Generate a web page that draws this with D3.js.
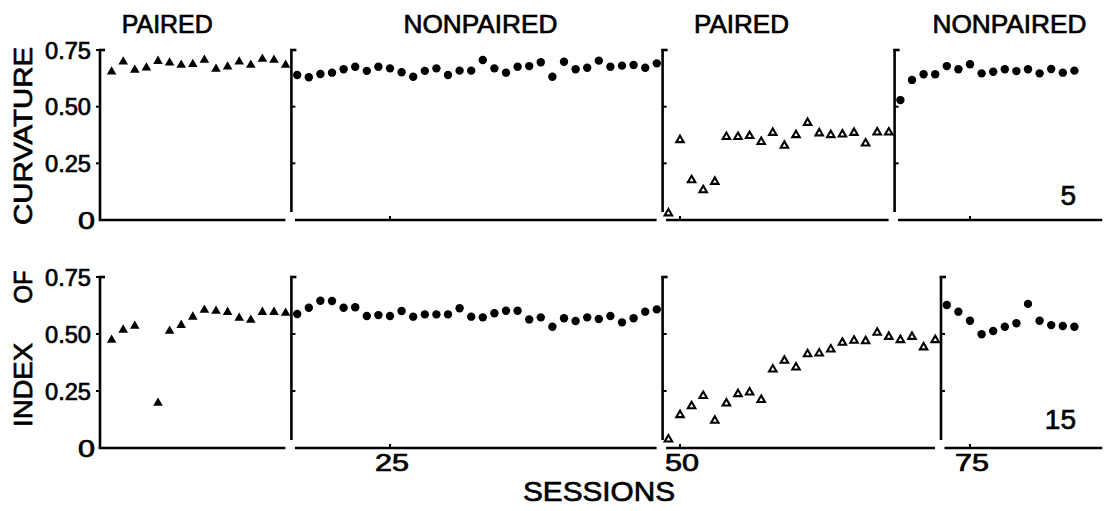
<!DOCTYPE html>
<html><head><meta charset="utf-8">
<script src="https://cdn.jsdelivr.net/npm/d3@7"></script>
<style>
body{margin:0;background:#fff}
svg{display:block}
text{font-family:"Liberation Sans",Arial,Helvetica,sans-serif;fill:#000;stroke:#000;stroke-width:0.7px}
</style>
</head><body>
<svg id="c" width="1109" height="511"></svg>
<script>
// ---------- DATA ----------
const conditionLabels = ["PAIRED", "NONPAIRED", "PAIRED", "NONPAIRED"];
const yTickValues = [0, 0.25, 0.5, 0.75];
const yTickLabels = ["0", "0.25", "0.50", "0.75"];
const xTickValues = [25, 50, 75];
const panelLabels = ["5", "15"];

// Top panel (5) — index of curvature per session
const topPairedAStart = 1;
const topPairedA = [0.654, 0.698, 0.662, 0.672, 0.701, 0.694, 0.684, 0.687, 0.706, 0.666, 0.676, 0.698, 0.684, 0.710, 0.706, 0.684];
const topNonpairedAStart = 17;
const topNonpairedA = [0.640, 0.630, 0.644, 0.650, 0.665, 0.676, 0.658, 0.676, 0.669, 0.652, 0.632, 0.658, 0.669, 0.640, 0.659, 0.659,
  0.706, 0.669, 0.650, 0.676, 0.679, 0.696, 0.632, 0.698, 0.665, 0.672, 0.703, 0.676, 0.681, 0.684, 0.672, 0.691];
const topPairedBStart = 49;
const topPairedB = [0.030, 0.353, 0.176, 0.132, 0.169, 0.367, 0.367, 0.371, 0.345, 0.385, 0.328, 0.375, 0.429, 0.383, 0.375, 0.378, 0.385, 0.338, 0.387, 0.387];
const topNonpairedBStart = 69;
const topNonpairedB = [0.529, 0.618, 0.643, 0.643, 0.679, 0.665, 0.687, 0.647, 0.654, 0.665, 0.657, 0.665, 0.647, 0.666, 0.650, 0.659];

// Bottom panel (15)
const botPairedAStart = 1;
const botPairedA = [0.474, 0.518, 0.535, null, 0.197, 0.513, 0.539, 0.575, 0.605, 0.601, 0.596, 0.570, 0.561, 0.596, 0.596, 0.592];
const botNonpairedAStart = 17;
const botNonpairedA = [0.588, 0.615, 0.646, 0.645, 0.615, 0.617, 0.579, 0.583, 0.579, 0.601, 0.576, 0.586, 0.586, 0.586, 0.613, 0.576,
  0.573, 0.591, 0.602, 0.602, 0.564, 0.573, 0.532, 0.569, 0.557, 0.573, 0.566, 0.579, 0.551, 0.569, 0.598, 0.608];
const botPairedBStart = 49;
const botPairedB = [0.038, 0.145, 0.184, 0.229, 0.120, 0.196, 0.237, 0.244, 0.211, 0.345, 0.383, 0.354, 0.412, 0.415, 0.433, 0.462,
  0.471, 0.469, 0.506, 0.488, 0.474, 0.488, 0.442, 0.474];
const botNonpairedBStart = 73;
const botNonpairedB = [0.627, 0.598, 0.558, 0.499, 0.513, 0.532, 0.547, 0.632, 0.558, 0.539, 0.535, 0.532];

// Condition boundaries (session units) for each panel
const topBreaks = [0, 16.5, 48.5, 68.5];
const botBreaks = [0, 16.5, 48.5, 72.5];
const sessionEnd = 86.4;

// ---------- LAYOUT ----------
const svg = d3.select("#c");
const x = d3.scaleLinear().domain([0, 84]).range([100, 1074.4]);
const titleAt = [5.8, 32.8, 55.3, 78.4];
const titleLen = [91, 154, 95, 154];

function pts(start, vals) {
  return vals.map((v, i) => ({ s: start + i, v })).filter(d => d.v !== null);
}

const panels = [
  {
    y: d3.scaleLinear().domain([0, 0.75]).range([220, 50]),
    breaks: topBreaks,
    label: panelLabels[0], labelY: 205,
    series: [
      { d: pts(topPairedAStart, topPairedA), m: "triF" },
      { d: pts(topNonpairedAStart, topNonpairedA), m: "circ" },
      { d: pts(topPairedBStart, topPairedB), m: "triO" },
      { d: pts(topNonpairedBStart, topNonpairedB), m: "circ" }
    ],
    xLabels: false
  },
  {
    y: d3.scaleLinear().domain([0, 0.75]).range([448, 277]),
    breaks: botBreaks,
    label: panelLabels[1], labelY: 429,
    series: [
      { d: pts(botPairedAStart, botPairedA), m: "triF" },
      { d: pts(botNonpairedAStart, botNonpairedA), m: "circ" },
      { d: pts(botPairedBStart, botPairedB), m: "triO" },
      { d: pts(botNonpairedBStart, botNonpairedB), m: "circ" }
    ],
    xLabels: true
  }
];

const AX = 2.6;
const triF = d3.symbol().type(d3.symbolTriangle).size(40)();
const triO = d3.symbol().type(d3.symbolTriangle).size(24)();

panels.forEach(p => {
  const g = svg.append("g");
  const y = p.y;
  const y0 = y(0);
  p.breaks.forEach((b, i) => {
    const ax = x(b);
    g.append("line").attr("x1", ax).attr("x2", ax)
      .attr("y1", y(0.75) - 1).attr("y2", i === 0 ? y0 : y0 - 8)
      .attr("stroke", "#000").attr("stroke-width", AX);
    g.append("line").attr("x1", ax - AX / 2).attr("x2", ax + 5)
      .attr("y1", y(0.75)).attr("y2", y(0.75))
      .attr("stroke", "#000").attr("stroke-width", AX);
    const tv = i === 0 ? [0.25, 0.5, 0.75] : [0.25, 0.5];
    tv.forEach(t => {
      g.append("line")
        .attr("x1", i === 0 ? ax - 4 : ax).attr("x2", i === 0 ? ax : ax + 4)
        .attr("y1", y(t)).attr("y2", y(t))
        .attr("stroke", "#000").attr("stroke-width", 2);
    });
    const xs = i === 0 ? ax - AX / 2 : ax + 3.5;
    const xe = i < p.breaks.length - 1 ? x(p.breaks[i + 1]) - 6 : x(sessionEnd);
    g.append("line").attr("x1", xs).attr("x2", xe)
      .attr("y1", y0).attr("y2", y0)
      .attr("stroke", "#000").attr("stroke-width", AX);
  });
  xTickValues.forEach(t => {
    g.append("line").attr("x1", x(t)).attr("x2", x(t))
      .attr("y1", y0).attr("y2", y0 - 4)
      .attr("stroke", "#000").attr("stroke-width", 2);
  });
  yTickValues.forEach((t, i) => {
    const lab = yTickLabels[i];
    const tx = g.append("text")
      .attr("x", lab === "0" ? 95 : 91)
      .attr("y", y(t) + 8.5)
      .attr("text-anchor", "end")
      .attr("font-size", 23)
      .text(lab);
    if (lab === "0") tx.attr("textLength", 17).attr("lengthAdjust", "spacingAndGlyphs");
    else tx.attr("textLength", 46).attr("lengthAdjust", "spacingAndGlyphs");
  });
  p.series.forEach(s => {
    const sel = g.selectAll(null).data(s.d).enter();
    if (s.m === "circ") {
      sel.append("circle").attr("cx", d => x(d.s)).attr("cy", d => y(d.v))
        .attr("r", 4.2).attr("fill", "#000");
    } else if (s.m === "triF") {
      sel.append("path").attr("d", triF)
        .attr("transform", d => `translate(${x(d.s)},${y(d.v)})`)
        .attr("fill", "#000");
    } else {
      sel.append("path").attr("d", triO)
        .attr("transform", d => `translate(${x(d.s)},${y(d.v)})`)
        .attr("fill", "#fff").attr("stroke", "#000").attr("stroke-width", 2.1)
        .attr("stroke-linejoin", "miter");
    }
  });
  g.append("text").attr("x", 1076).attr("y", p.labelY)
    .attr("text-anchor", "end").attr("font-size", 28).text(p.label);
  if (p.xLabels) {
    xTickValues.forEach(t => {
      g.append("text").attr("x", x(t) + 2).attr("y", y0 + 23)
        .attr("text-anchor", "middle").attr("font-size", 23)
        .attr("textLength", 34).attr("lengthAdjust", "spacingAndGlyphs")
        .text(String(t));
    });
  }
});

conditionLabels.forEach((t, i) => {
  svg.append("text").attr("x", x(titleAt[i])).attr("y", 33)
    .attr("text-anchor", "middle").attr("font-size", 25)
    .attr("textLength", titleLen[i]).attr("lengthAdjust", "spacingAndGlyphs")
    .text(t);
});

svg.append("text").attr("transform", "translate(32,136) rotate(-90)")
  .attr("text-anchor", "middle").attr("font-size", 26)
  .attr("textLength", 178).attr("lengthAdjust", "spacingAndGlyphs")
  .text("CURVATURE");
svg.append("text").attr("transform", "translate(32,287) rotate(-90)")
  .attr("text-anchor", "middle").attr("font-size", 26)
  .attr("textLength", 33).attr("lengthAdjust", "spacingAndGlyphs")
  .text("OF");
svg.append("text").attr("transform", "translate(32,385) rotate(-90)")
  .attr("text-anchor", "middle").attr("font-size", 26)
  .attr("textLength", 84).attr("lengthAdjust", "spacingAndGlyphs")
  .text("INDEX");

svg.append("text").attr("x", 599).attr("y", 501)
  .attr("text-anchor", "middle").attr("font-size", 28)
  .attr("textLength", 152).attr("lengthAdjust", "spacingAndGlyphs")
  .text("SESSIONS");
</script>
</body></html>
